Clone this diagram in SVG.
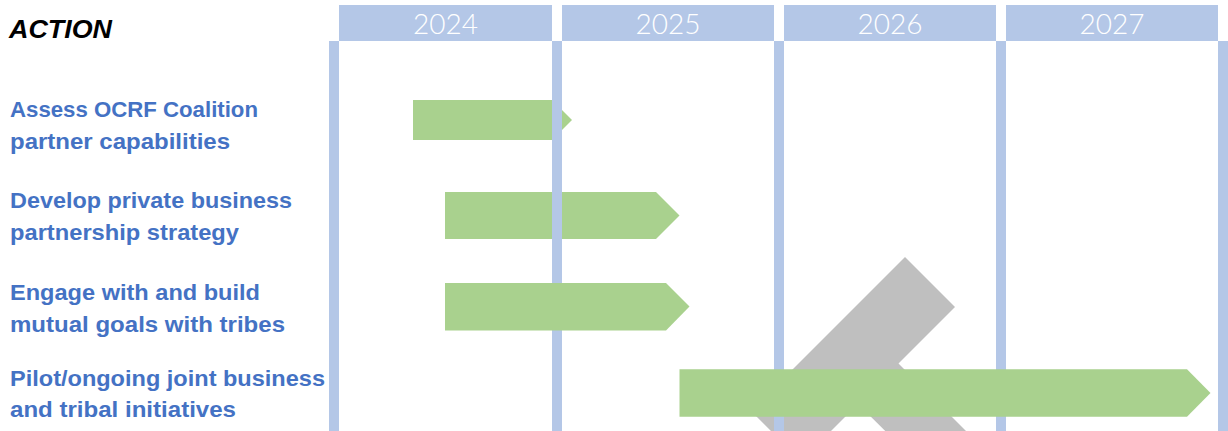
<svg xmlns="http://www.w3.org/2000/svg" width="1228" height="431" viewBox="0 0 1228 431">
<style>
.hdr{fill:#B4C7E7}
.yr{fill:#FFFFFF;font-family:Lato,"Open Sans","Liberation Sans",sans-serif;font-weight:300;font-size:28px;text-anchor:middle}
.lbl{fill:#4472C4;font-family:"Liberation Sans",Arial,sans-serif;font-weight:bold;font-size:22px}
.bar{fill:#A9D18E}
.ttl{fill:#000000;font-family:"Liberation Sans",Arial,sans-serif;font-weight:bold;font-style:italic;font-size:26px}
</style>
<rect width="1228" height="431" fill="#FFFFFF"/>
<text class="ttl" x="9" y="38" textLength="103" lengthAdjust="spacingAndGlyphs">ACTION</text>
<g id="headers">
<g id="y2024"><rect class="hdr" x="339" y="5" width="213" height="36"/><text class="yr" x="445.5" y="34">2024</text></g>
<g id="y2025"><rect class="hdr" x="562" y="5" width="212" height="36"/><text class="yr" x="668" y="34">2025</text></g>
<g id="y2026"><rect class="hdr" x="784" y="5" width="212" height="36"/><text class="yr" x="890" y="34">2026</text></g>
<g id="y2027"><rect class="hdr" x="1006" y="5" width="212" height="36"/><text class="yr" x="1112" y="34">2027</text></g>
</g>
<g id="labels">
<g id="task1"><text class="lbl" x="10" y="117" textLength="248" lengthAdjust="spacingAndGlyphs">Assess OCRF Coalition</text><text class="lbl" x="10" y="149" textLength="220" lengthAdjust="spacingAndGlyphs">partner capabilities</text></g>
<g id="task2"><text class="lbl" x="10" y="208" textLength="282" lengthAdjust="spacingAndGlyphs">Develop private business</text><text class="lbl" x="10" y="240" textLength="229" lengthAdjust="spacingAndGlyphs">partnership strategy</text></g>
<g id="task3"><text class="lbl" x="10" y="300" textLength="250" lengthAdjust="spacingAndGlyphs">Engage with and build</text><text class="lbl" x="10" y="332" textLength="275" lengthAdjust="spacingAndGlyphs">mutual goals with tribes</text></g>
<g id="task4"><text class="lbl" x="10" y="386" textLength="315" lengthAdjust="spacingAndGlyphs">Pilot/ongoing joint business</text><text class="lbl" x="10" y="417" textLength="226" lengthAdjust="spacingAndGlyphs">and tribal initiatives</text></g>
</g>
<g id="bars-back">
<polygon id="bar1" class="bar" points="413,100 552,100 572,120 552,140 413,140"/>
<polygon id="bar2" class="bar" points="445,192 656,192 679.5,215.5 656,239 445,239"/>
</g>
<polygon id="gray-shape" fill="#BFBFBF" points="905,257 955,307 898.5,363.5 995,460 914.5,460 858,404 801,461 751,411"/>
<g id="connectors">
<rect class="hdr" x="329" y="41" width="10" height="390"/>
<rect class="hdr" x="552" y="41" width="10" height="390"/>
<rect class="hdr" x="774" y="41" width="10" height="390"/>
<rect class="hdr" x="996" y="41" width="10" height="390"/>
<rect class="hdr" x="1218" y="41" width="10" height="390"/>
</g>
<g id="bars-front">
<polygon id="bar3" class="bar" points="445,283 666,283 689.5,306.5 666,330.5 445,330.5"/>
<polygon id="bar4" class="bar" points="679.5,369.3 1187,369.3 1210.5,393 1187,416.7 679.5,416.7"/>
</g>
</svg>
